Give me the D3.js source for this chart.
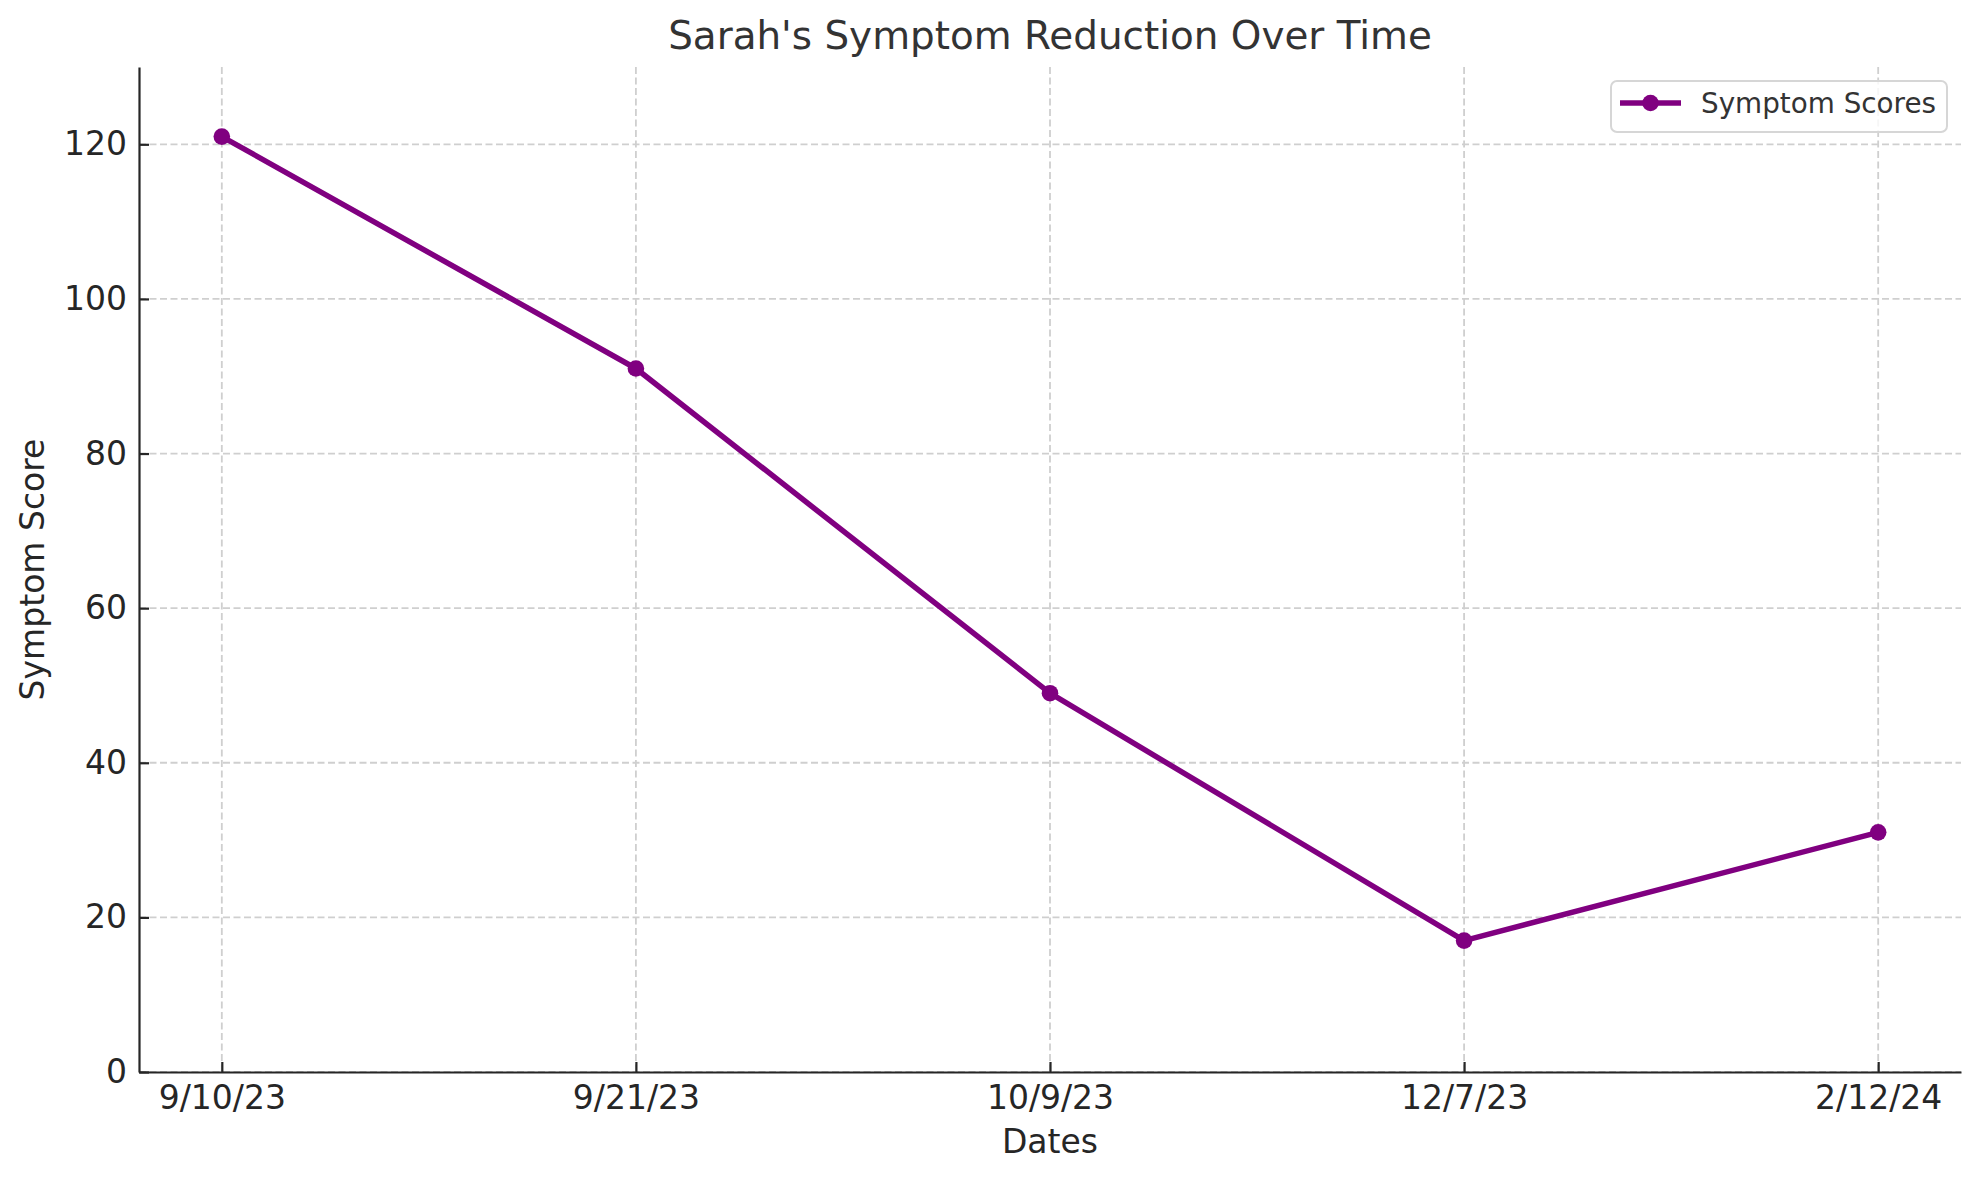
<!DOCTYPE html>
<html lang="en">
	<head>
		<meta charset="utf-8">
		<title>Sarah's Symptom Reduction Over Time</title>
		<script type="text/javascript" src="https://cdn.jsdelivr.net/npm/d3@7"></script>
		<style type="text/css">
			body { margin: 0; background: #fff; }
			svg { display: block; font-family: "DejaVu Sans", sans-serif; }
			.axis text { font-size: 33px; fill: #262626; }
			.axis path, .axis line { stroke: #262626; stroke-width: 2.2px; }
			.grid line { stroke: #cfcfcf; stroke-width: 1.8px; stroke-dasharray: 7 3.5; }
		</style>
	</head>
	<body>
		<script type="text/javascript">

			// Data
			var dates = ["9/10/23", "9/21/23", "10/9/23", "12/7/23", "2/12/24"];
			var scores = [121, 91, 49, 17, 31];
			var yTicks = [0, 20, 40, 60, 80, 100, 120];
			var seriesName = "Symptom Scores";

			// Size and plot area (plotTop, not "top": window.top is read-only)
			var w = 1980;
			var h = 1180;
			var plotLeft = 139, plotRight = 1961, plotTop = 67, plotBottom = 1072;
			var purple = "#800080";

			var svg = d3.select("body")
				.append("svg")
				.attr("width", w)
				.attr("height", h);

			var x = d3.scalePoint()
				.domain(dates)
				.range([plotLeft, plotRight])
				.padding(0.2);

			var y = d3.scaleLinear()
				.domain([0, 130])
				.range([plotBottom, plotTop]);

			// Grid lines
			var grid = svg.append("g").attr("class", "grid");
			grid.selectAll("line.v")
				.data(dates)
				.enter()
				.append("line")
				.attr("class", "v")
				.attr("x1", function(d) { return x(d); })
				.attr("x2", function(d) { return x(d); })
				.attr("y1", plotTop)
				.attr("y2", plotBottom);
			grid.selectAll("line.h")
				.data(yTicks)
				.enter()
				.append("line")
				.attr("class", "h")
				.attr("x1", plotLeft)
				.attr("x2", plotRight)
				.attr("y1", function(d) { return y(d); })
				.attr("y2", function(d) { return y(d); });

			// Axes, ticks pointing inward
			svg.append("g")
				.attr("class", "axis")
				.attr("transform", "translate(0," + plotBottom + ")")
				.call(d3.axisBottom(x).tickSizeInner(-10).tickSizeOuter(0).tickPadding(14));

			svg.append("g")
				.attr("class", "axis")
				.attr("transform", "translate(" + plotLeft + ",0)")
				.call(d3.axisLeft(y).tickValues(yTicks).tickSizeInner(-10).tickSizeOuter(0).tickPadding(12));

			svg.selectAll(".axis").attr("font-size", null).attr("font-family", null);

			// Line and markers
			var line = d3.line()
				.x(function(d, i) { return x(dates[i]); })
				.y(function(d) { return y(d); });

			svg.append("path")
				.datum(scores)
				.attr("d", line)
				.attr("fill", "none")
				.attr("stroke", purple)
				.attr("stroke-width", 5.5)
				.attr("stroke-linejoin", "round");

			svg.selectAll("circle.pt")
				.data(scores)
				.enter()
				.append("circle")
				.attr("class", "pt")
				.attr("cx", function(d, i) { return x(dates[i]); })
				.attr("cy", function(d) { return y(d); })
				.attr("r", 8.3)
				.attr("fill", purple);

			// Title and axis labels
			svg.append("text")
				.attr("x", (plotLeft + plotRight) / 2)
				.attr("y", 49)
				.attr("text-anchor", "middle")
				.attr("font-size", 38.9)
				.attr("fill", "#333")
				.text("Sarah's Symptom Reduction Over Time");

			svg.append("text")
				.attr("x", (plotLeft + plotRight) / 2)
				.attr("y", 1153)
				.attr("text-anchor", "middle")
				.attr("font-size", 33)
				.attr("fill", "#262626")
				.text("Dates");

			svg.append("text")
				.attr("transform", "translate(44," + ((plotTop + plotBottom) / 2) + ") rotate(-90)")
				.attr("text-anchor", "middle")
				.attr("font-size", 33)
				.attr("fill", "#262626")
				.text("Symptom Score");

			// Legend, upper right
			var legend = svg.append("g")
				.attr("transform", "translate(1611,81)");
			legend.append("rect")
				.attr("width", 336)
				.attr("height", 51)
				.attr("rx", 6)
				.attr("fill", "#fff")
				.attr("fill-opacity", 0.8)
				.attr("stroke", "#d6d6d6")
				.attr("stroke-width", 2);
			legend.append("line")
				.attr("x1", 9).attr("x2", 70)
				.attr("y1", 22).attr("y2", 22)
				.attr("stroke", purple)
				.attr("stroke-width", 5.5);
			legend.append("circle")
				.attr("cx", 39.5).attr("cy", 22)
				.attr("r", 8.3)
				.attr("fill", purple);
			legend.append("text")
				.attr("x", 90)
				.attr("y", 32)
				.attr("font-size", 27.8)
				.attr("fill", "#333")
				.text(seriesName);

		</script>
	</body>
</html>
